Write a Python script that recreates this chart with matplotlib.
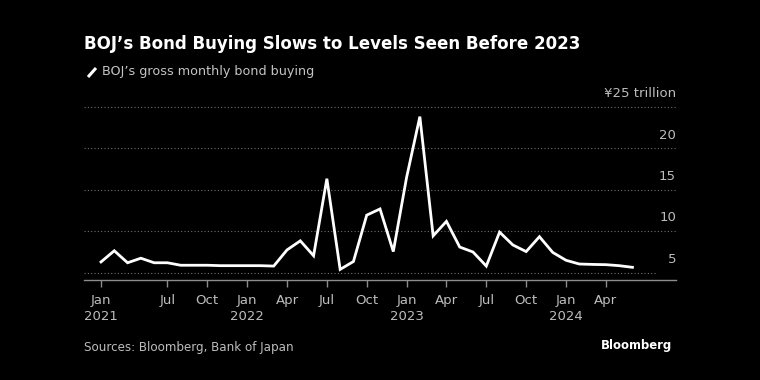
import matplotlib
matplotlib.use("Agg")
import matplotlib.pyplot as plt
from matplotlib.lines import Line2D
import matplotlib.transforms as mtransforms

# Data: BOJ gross monthly bond buying, ¥ trillion, Jan 2021 - May 2024
months = [
    "2021-01", "2021-02", "2021-03", "2021-04", "2021-05", "2021-06",
    "2021-07", "2021-08", "2021-09", "2021-10", "2021-11", "2021-12",
    "2022-01", "2022-02", "2022-03", "2022-04", "2022-05", "2022-06",
    "2022-07", "2022-08", "2022-09", "2022-10", "2022-11", "2022-12",
    "2023-01", "2023-02", "2023-03", "2023-04", "2023-05", "2023-06",
    "2023-07", "2023-08", "2023-09", "2023-10", "2023-11", "2023-12",
    "2024-01", "2024-02", "2024-03", "2024-04", "2024-05",
]
buying = [
    6.3, 7.65, 6.2, 6.75, 6.2, 6.2,
    5.9, 5.9, 5.9, 5.85, 5.85, 5.85,
    5.85, 5.8, 7.75, 8.85, 7.05, 16.35,
    5.4, 6.35, 11.95, 12.7, 7.55, 16.5,
    23.85, 9.45, 11.2, 8.1, 7.5, 5.8,
    9.9, 8.35, 7.55, 9.35, 7.45, 6.5,
    6.05, 6.0, 5.97, 5.85, 5.65,
]
# tick positions (month index where the tick sits) and labels
tick_pos = [0, 5, 8, 11, 14, 17, 20, 23, 26, 29, 32, 35, 38]
tick_labels = ["Jan\n2021", "Jul", "Oct", "Jan\n2022", "Apr", "Jul", "Oct",
               "Jan\n2023", "Apr", "Jul", "Oct", "Jan\n2024", "Apr"]
y_ticks = [5, 10, 15, 20, 25]
y_labels = ["5", "10", "15", "20", "¥25 trillion"]

W, H = 760, 380
fig = plt.figure(figsize=(W / 100, H / 100), dpi=100, facecolor="black")

left, right, bottom, top = 84, 676, 280, 100
ax = fig.add_axes([left / W, 1 - bottom / H, (right - left) / W, (bottom - top) / H])
ax.set_facecolor("black")

x = list(range(len(buying)))
ax.plot(x, buying, color="white", lw=2.0, solid_joinstyle="miter", zorder=3)

px_per_month = 13.286
x0 = -(101 - left) / px_per_month
x1 = (right - 101) / px_per_month
ax.set_xlim(x0, x1)
px_per_unit = 8.28
ax.set_ylim(5 - (bottom - 272.7) / px_per_unit, 5 + (272.7 - top) / px_per_unit)

for s in ["top", "right", "left"]:
    ax.spines[s].set_visible(False)
ax.spines["bottom"].set_color("#8c8c8c")
ax.spines["bottom"].set_linewidth(1.0)

ax.set_xticks(tick_pos)
ax.set_xticklabels(tick_labels, color="#bdbdbd", fontsize=9.5, linespacing=1.35)
ax.tick_params(axis="x", length=5, width=1, color="#8c8c8c", pad=5)
ax.set_yticks([])

grid_color = "#6e6e6e"
for v, lab in zip(y_ticks, y_labels):
    xmax = 1.0 if v != 5 else (656 - left) / (right - left)
    ax.axhline(v, xmin=0, xmax=xmax, color=grid_color, lw=0.8,
               linestyle=(0, (1, 2)), zorder=1)
    trans = mtransforms.blended_transform_factory(ax.transAxes, ax.transData)
    ax.annotate(lab, xy=(1.0, v), xycoords=trans, xytext=(0, 5),
                textcoords="offset points", ha="right", va="bottom",
                color="#bdbdbd", fontsize=9.5)

# Title and legend
fig.text(84 / W, 1 - 44 / H, "BOJ’s Bond Buying Slows to Levels Seen Before 2023",
         color="white", fontsize=12.0, fontweight="bold", va="center", ha="left")
fig.add_artist(Line2D([88 / W, 96 / W], [1 - 77 / H, 1 - 68 / H],
                      transform=fig.transFigure, color="white", lw=2.2,
                      solid_capstyle="butt"))
fig.text(102 / W, 1 - 72 / H, "BOJ’s gross monthly bond buying",
         color="#c4c4c4", fontsize=9.2, va="center", ha="left")

# Footer
fig.text(84 / W, 1 - 348 / H, "Sources: Bloomberg, Bank of Japan",
         color="#bdbdbd", fontsize=8.6, va="center", ha="left")
fig.text(672 / W, 1 - 346 / H, "Bloomberg", color="white", fontsize=8.4,
         fontweight="bold", va="center", ha="right")

fig.savefig("out.png", dpi=100, facecolor="black")
